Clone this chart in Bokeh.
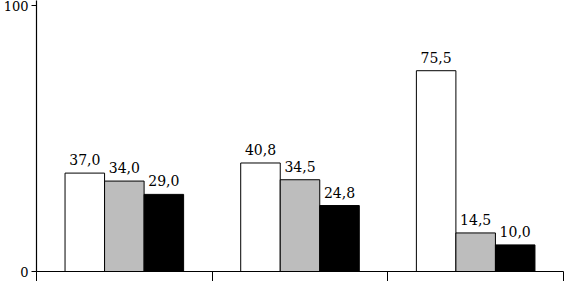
from bokeh.plotting import figure
from bokeh.models import ColumnDataSource, FixedTicker, Range1d
from bokeh.core.properties import value
from bokeh.embed import file_html
from bokeh.resources import INLINE

groups = [0, 1, 2]
series_names = ["white", "gray", "black"]
series_colors = ["#ffffff", "#bdbdbd", "#000000"]
values_white = [37.0, 40.8, 75.5]
values_gray = [34.0, 34.5, 14.5]
values_black = [29.0, 24.8, 10.0]
series_values = [values_white, values_gray, values_black]

FONT = "DejaVu Serif"
bar_w = 0.225

p = figure(width=564, height=281, output_backend="svg", toolbar_location=None,
           x_range=Range1d(0, 3.0), y_range=Range1d(0, 101.9),
           min_border_left=35, min_border_right=1, min_border_top=0, min_border_bottom=10)
p.outline_line_color = None
p.grid.visible = False
p.background_fill_color = "white"

for k, (vals, col) in enumerate(zip(series_values, series_colors)):
    xs = [g + 0.5 + (k - 1) * bar_w for g in groups]
    labels = [f"{v:.1f}".replace(".", ",") for v in vals]
    src = ColumnDataSource(dict(x=xs, top=vals, label=labels))
    p.vbar(x="x", top="top", width=bar_w, bottom=0, source=src,
           fill_color=col, line_color="black", line_width=1)
    p.text(x="x", y="top", text="label", source=src, text_align="center",
           text_baseline="bottom", y_offset=-8, text_font=value(FONT),
           text_font_size="14px", text_color="black")

p.yaxis.ticker = FixedTicker(ticks=[0, 100])
p.yaxis.minor_tick_line_color = None
p.yaxis.major_tick_out = 5
p.yaxis.major_tick_in = 0
p.yaxis.major_label_standoff = 3
p.yaxis.major_label_text_font = FONT
p.yaxis.major_label_text_font_size = "13px"
p.yaxis.major_label_text_color = "black"
p.yaxis.axis_line_width = 1.2

p.xaxis.ticker = FixedTicker(ticks=[0, 1, 2, 3])
p.xaxis.major_label_text_font_size = "0px"
p.xaxis.major_label_text_color = None
p.xaxis.minor_tick_line_color = None
p.xaxis.major_tick_out = 10
p.xaxis.major_tick_in = 0
p.xaxis.axis_line_width = 1.2
p.xaxis.major_label_standoff = 0

open("out.html", "w").write(file_html(p, INLINE))
